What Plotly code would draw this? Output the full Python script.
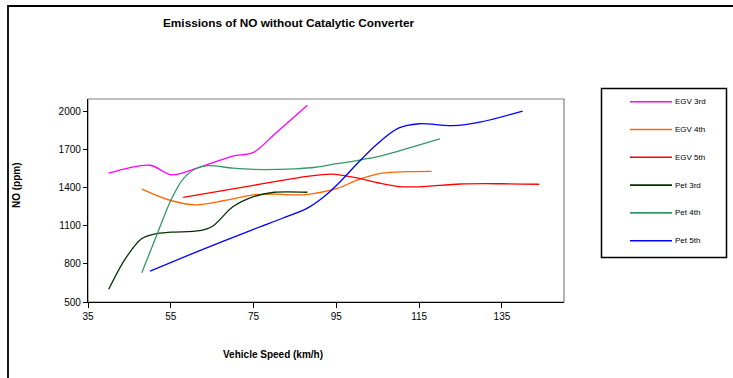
import plotly.graph_objects as go

# ---- data ----
series_names = ["EGV 3rd", "EGV 4th", "EGV 5th", "Pet 3rd", "Pet 4th", "Pet 5th"]
series_colors = ["#FF00FF", "#FF6600", "#FF0000", "#003300", "#339966", "#0000FF"]

egv3_x = [40, 50, 55, 60, 65, 70, 75, 80, 88]
egv3_y = [1515, 1578, 1503, 1540, 1596, 1650, 1680, 1820, 2050]

egv4_x = [48, 55, 61, 68, 75, 80, 87, 95, 100, 106, 112, 118]
egv4_y = [1390, 1300, 1266, 1300, 1345, 1350, 1345, 1393, 1460, 1515, 1527, 1530]

egv5_x = [58, 75, 88, 94, 100, 105, 110, 115, 125, 135, 144]
egv5_y = [1325, 1420, 1490, 1508, 1478, 1440, 1410, 1408, 1430, 1432, 1428]

pet3_x = [40, 44, 48, 51, 55, 62, 65, 70, 75, 80, 88]
pet3_y = [600, 840, 1000, 1035, 1050, 1062, 1095, 1250, 1330, 1365, 1365]

pet4_x = [48, 52, 55, 58, 61, 64, 70, 75, 85, 90, 95, 100, 105, 110, 120]
pet4_y = [730, 1060, 1300, 1470, 1550, 1575, 1555, 1545, 1550, 1562, 1590, 1615, 1645, 1690, 1785]

pet5_x = [50, 62, 75, 82, 88, 92, 96, 100, 105, 110, 115, 123, 130, 140]
pet5_y = [743, 905, 1073, 1160, 1240, 1330, 1450, 1590, 1750, 1870, 1905, 1890, 1920, 2005]

x_ticks = [35, 55, 75, 95, 115, 135]
y_ticks = [500, 800, 1100, 1400, 1700, 2000]

title_text = "Emissions of NO without Catalytic Converter"
x_title = "Vehicle Speed (km/h)"
y_title = "NO (ppm)"

xs = [egv3_x, egv4_x, egv5_x, pet3_x, pet4_x, pet5_x]
ys = [egv3_y, egv4_y, egv5_y, pet3_y, pet4_y, pet5_y]

FONT = "Arial, Liberation Sans, sans-serif"

fig = go.Figure()
for name, color, x, y in zip(series_names, series_colors, xs, ys):
    fig.add_trace(go.Scatter(
        x=x, y=y, name=name, mode="lines",
        line=dict(color=color, width=1.3, shape="spline", smoothing=0.9),
        showlegend=False,
    ))

# layout geometry
W, H = 733, 378
L, R, T, B = 88, 169, 99, 76
pw, ph = W - L - R, H - T - B


def px_x(px):
    return (px - L) / pw


def px_y(py):
    return (H - B - py) / ph


shapes = [
    # plot area frame (gray)
    dict(type="rect", xref="paper", yref="paper", x0=0, x1=1, y0=0, y1=1,
         line=dict(color="#808080", width=1.2), layer="below"),
    # outer chart border
    dict(type="rect", xref="paper", yref="paper",
         x0=px_x(8), x1=px_x(745), y0=px_y(395), y1=px_y(6),
         line=dict(color="black", width=1.8)),
    # legend box
    dict(type="rect", xref="paper", yref="paper",
         x0=px_x(601.5), x1=px_x(726.5), y0=px_y(257.5), y1=px_y(88.5),
         line=dict(color="black", width=1.5)),
]

annotations = [
    dict(text="<b>%s</b>" % title_text, xref="paper", yref="paper",
         x=px_x(288), y=px_y(23), xanchor="center", yanchor="middle",
         showarrow=False, font=dict(family=FONT, size=11.8, color="black")),
    dict(text="<b>%s</b>" % x_title, xref="paper", yref="paper",
         x=px_x(273), y=px_y(354), xanchor="center", yanchor="middle",
         showarrow=False, font=dict(family=FONT, size=10, color="black")),
    dict(text="<b>%s</b>" % y_title, xref="paper", yref="paper",
         x=px_x(16), y=px_y(185), xanchor="center", yanchor="middle",
         textangle=-90, showarrow=False,
         font=dict(family=FONT, size=10, color="black")),
]

legend_y = [101.7, 129.5, 157.3, 185.1, 212.9, 240.7]
for name, color, ly in zip(series_names, series_colors, legend_y):
    shapes.append(dict(type="line", xref="paper", yref="paper",
                       x0=px_x(630), x1=px_x(672), y0=px_y(ly), y1=px_y(ly),
                       line=dict(color=color, width=1.6)))
    annotations.append(dict(text=name, xref="paper", yref="paper",
                            x=px_x(672.5), y=px_y(ly), xanchor="left",
                            yanchor="middle", showarrow=False,
                            font=dict(family=FONT, size=8, color="black")))

fig.update_layout(
    width=W, height=H,
    margin=dict(l=L, r=R, t=T, b=B),
    paper_bgcolor="white", plot_bgcolor="white",
    font=dict(family=FONT, size=10, color="black"),
    shapes=shapes, annotations=annotations,
    xaxis=dict(range=[35, 150], tickvals=x_ticks, ticktext=[str(v) for v in x_ticks],
               showgrid=False, zeroline=False, showline=True, linecolor="black",
               linewidth=1.3, ticks="outside", ticklen=5, tickcolor="black",
               tickwidth=1, tickfont=dict(family=FONT, size=10)),
    yaxis=dict(range=[500, 2100], tickvals=y_ticks, ticktext=[str(v) for v in y_ticks],
               showgrid=False, zeroline=False, showline=True, linecolor="black",
               linewidth=1.3, ticks="outside", ticklen=4, tickcolor="black",
               tickwidth=1, tickfont=dict(family=FONT, size=10)),
)

fig.write_html("out.html")
